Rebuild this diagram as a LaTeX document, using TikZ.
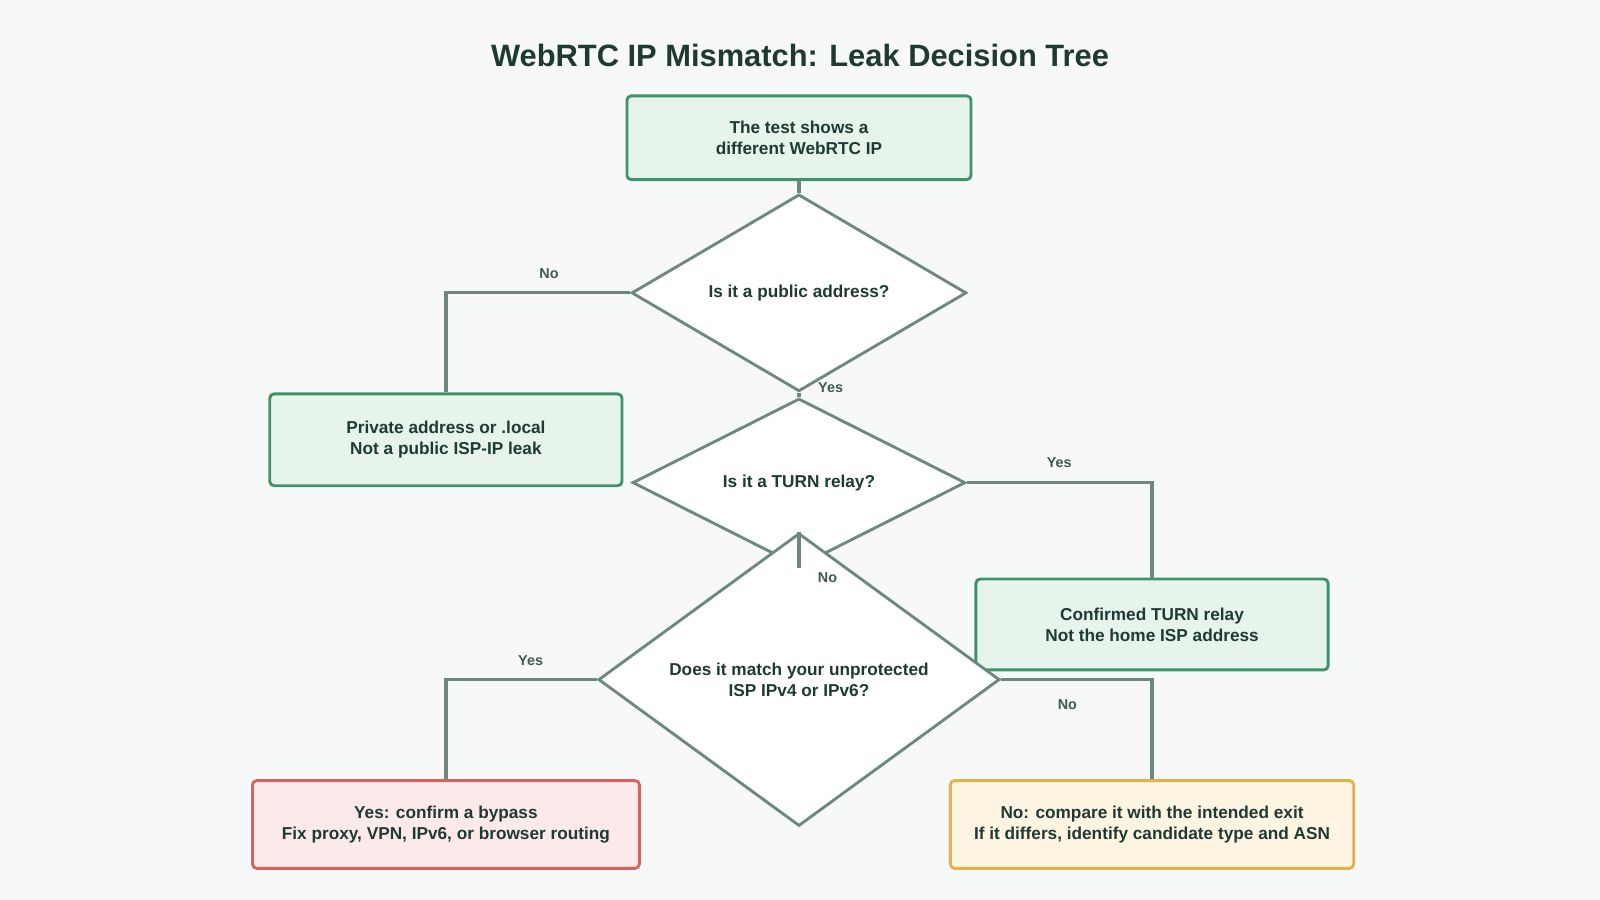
\documentclass[tikz,border=0pt]{standalone}
\usepackage{fontspec}
\setmainfont{Liberation Sans}
\usetikzlibrary{shapes.geometric,positioning}
\definecolor{bgc}{HTML}{F7F9F8}
\definecolor{ink}{HTML}{1E3A33}
\definecolor{gfill}{HTML}{E6F4EC}
\definecolor{gline}{HTML}{3F9368}
\definecolor{rfill}{HTML}{FCE9E9}
\definecolor{rline}{HTML}{D36464}
\definecolor{ofill}{HTML}{FEF4E2}
\definecolor{oline}{HTML}{E1B14E}
\definecolor{lnk}{HTML}{6E8880}
\tikzset{
  okbox/.style={draw=gline, fill=gfill, line width=0.8pt, rounded corners=1.2pt, align=center, font=\fontsize{4.8}{5.8}\selectfont\bfseries, text=ink},
  badbox/.style={okbox, draw=rline, fill=rfill},
  warnbox/.style={okbox, draw=oline, fill=ofill},
  ask/.style={diamond, draw=lnk, fill=white, line width=0.8pt, inner sep=0pt, align=center, font=\fontsize{4.8}{5.8}\selectfont\bfseries, text=ink},
  link/.style={draw=lnk, line width=0.9pt},
  lbl/.style={font=\fontsize{4}{5}\selectfont\bfseries, text=ink!85}
}
\begin{document}
\begin{tikzpicture}[x=0.01cm,y=-0.01cm]
\fill[bgc] (0,0) rectangle (1568,882);
\useasboundingbox (0,0) rectangle (1568,882);

\node[font=\fontsize{8.6}{10}\selectfont\bfseries, text=ink] (title) at (784,54) {WebRTC IP Mismatch: Leak Decision Tree};

\node[okbox, minimum width=3.37cm, minimum height=0.82cm] (start) at (783,135) {The test shows a\\different WebRTC IP};
\node[ask, minimum width=3.28cm, minimum height=1.39cm] (public) at (783,287) {Is it a public address?};
\node[okbox, minimum width=3.45cm, minimum height=0.90cm] (private) at (437,431) {Private address or .local\\Not a public ISP-IP leak};
\node[ask, minimum width=3.26cm, minimum height=1.39cm] (turn) at (783,473) {Is it a TURN relay?};
\node[okbox, minimum width=3.45cm, minimum height=0.89cm] (relay) at (1129,612) {Confirmed TURN relay\\Not the home ISP address};
\node[ask, minimum width=3.93cm, minimum height=1.56cm] (match) at (783,666) {Does it match your unprotected\\ISP IPv4 or IPv6?};
\node[badbox, minimum width=3.79cm, minimum height=0.86cm] (bypass) at (437,808) {Yes: confirm a bypass\\Fix proxy, VPN, IPv6, or browser routing};
\node[warnbox, minimum width=3.95cm, minimum height=0.86cm] (compare) at (1129,808) {No: compare it with the intended exit\\If it differs, identify candidate type and ASN};

% connectors
\draw[link] (start) -- (public);
\draw[link] (public.west) -| (private.north);
\draw[link] (public) -- (turn);
\draw[link] (turn.east) -| (relay.north);
\draw[link] (turn) -- (match);
\draw[link] (match.west) -| (bypass.north);
\draw[link] (match.east) -| (compare.north);

\node[lbl] (l1) at (538,268) {No};
\node[lbl] (l2) at (814,380) {Yes};
\node[lbl] (l3) at (1038,453) {Yes};
\node[lbl] (l4) at (811,566) {No};
\node[lbl] (l5) at (520,647) {Yes};
\node[lbl] (l6) at (1046,691) {No};
\end{tikzpicture}
\end{document}
